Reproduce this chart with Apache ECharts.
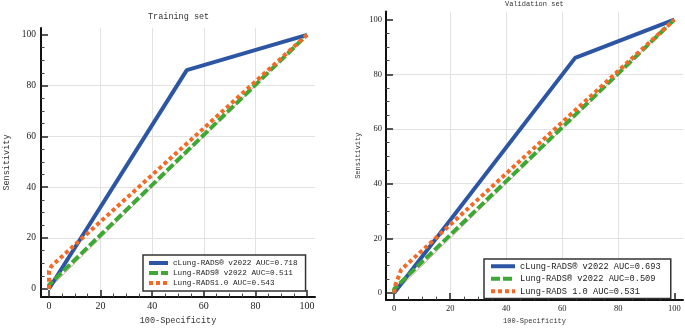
<!DOCTYPE html>
<html>
<head>
<meta charset="utf-8">
<script src="https://cdn.jsdelivr.net/npm/echarts@6/dist/echarts.min.js"></script>
<style>
  html, body { margin: 0; padding: 0; background: #fff; }
  #chart { width: 685px; height: 330px; }
</style>
</head>
<body>
<div id="chart"></div>
<script>
// ROC points: [100-Specificity, Sensitivity]
const trainNames = ['cLung-RADS® v2022 AUC=0.718', 'Lung-RADS® v2022 AUC=0.511', 'Lung-RADS1.0 AUC=0.543'];
const trainCLung = [[0, 0], [53.4, 86.1], [100, 100]];
const trainLung22 = [[0, 0], [0, 1.5], [100, 100]];
const trainLung10 = [[0, 0], [0, 7], [1, 9], [100, 100]];

const validNames = ['cLung-RADS® v2022 AUC=0.693', 'Lung-RADS® v2022 AUC=0.509', 'Lung-RADS 1.0 AUC=0.531'];
const validCLung = [[0, 0], [64.6, 86], [100, 100]];
const validLung22 = [[0, 0], [0, 1.5], [100, 100]];
const validLung10 = [[0, 0], [0.5, 3], [2.5, 8.5], [100, 100]];

const diagonal = [[0, 0], [100, 100]];
const tickValues = [0, 20, 40, 60, 80, 100];

const mono = 'Liberation Mono';
const serif = 'Liberation Serif';
const colors = ['#2c56a3', '#3ca935', '#f46a25'];
const dashes = ['solid', [9, 3], [4, 3]];

// ticks/labels pinned to 0..100, axis line sits a little outside 0
const makeAxis = (gridIndex, min, max, name, nameGap, fontSize, nameSize, labelMargin) => ({
  type: 'value',
  gridIndex,
  min,
  max,
  splitNumber: 5,
  name,
  nameLocation: 'middle',
  nameGap,
  nameTextStyle: { fontFamily: mono, fontSize: nameSize, color: '#333' },
  axisLine: { show: true, onZero: false, lineStyle: { color: '#111', width: 2 } },
  axisTick: { show: true, inside: true, length: 7, customValues: tickValues, lineStyle: { color: '#222', width: 1.5 } },
  minorTick: { show: true, splitNumber: 4, length: 3.5, lineStyle: { color: '#444', width: 1 } },
  axisLabel: {
    customValues: tickValues,
    margin: labelMargin,
    fontFamily: serif,
    fontSize,
    color: '#222',
  },
  splitLine: { show: true, showMinLine: false, showMaxLine: false, lineStyle: { color: '#e2e2e2', width: 1 } },
});

const makeSeries = (names, sets, axisIndex) => {
  const out = [
    {
      name: 'reference',
      type: 'line',
      xAxisIndex: axisIndex,
      yAxisIndex: axisIndex,
      data: diagonal,
      symbol: 'none',
      silent: true,
      lineStyle: { color: '#e7a7ab', width: 1 },
      z: 1,
    },
  ];
  sets.forEach((data, i) => {
    out.push({
      name: names[i],
      type: 'line',
      xAxisIndex: axisIndex,
      yAxisIndex: axisIndex,
      data,
      symbol: 'none',
      color: colors[i],
      lineStyle: { color: colors[i], width: 4, type: dashes[i], cap: 'butt' },
      z: 2 + i,
    });
  });
  return out;
};

const legendBase = {
  orient: 'vertical',
  itemHeight: 6,
  itemGap: 0,
  backgroundColor: '#fff',
  borderColor: '#333',
  borderWidth: 1.5,
  itemStyle: { opacity: 0 },
  lineStyle: { width: 4 },
};

const option = {
  animation: false,
  backgroundColor: '#fff',
  title: [
    {
      text: 'Training set',
      left: 148,
      top: 12,
      padding: 0,
      textStyle: { fontFamily: mono, fontSize: 8.5, fontWeight: 'normal', color: '#333' },
    },
    {
      text: 'Validation set',
      left: 505,
      top: 1,
      padding: 0,
      textStyle: { fontFamily: mono, fontSize: 7, fontWeight: 'normal', color: '#333' },
    },
  ],
  grid: [
    { left: 41, top: 28, width: 274, height: 272.5 },
    { left: 386, top: 11.4, width: 297, height: 294.6 },
  ],
  xAxis: [
    makeAxis(0, -3.1, 103.1, '100-Specificity', 18, 10, 8.5, 4),
    makeAxis(1, -2.9, 103.1, '100-Specificity', 15, 8.5, 7, 4),
  ],
  yAxis: [
    makeAxis(0, -3.3, 102.7, 'Sensitivity', 30, 9.5, 8.5, 5),
    makeAxis(1, -2.6, 103, 'Sensitivity', 24, 8.5, 7, 4),
  ],
  legend: [
    {
      ...legendBase,
      data: trainNames,
      left: 143,
      top: 255,
      padding: [3, 8, 3, 4],
      itemWidth: 19,
      textStyle: { fontFamily: mono, fontSize: 7.7, lineHeight: 10, color: '#222' },
    },
    {
      ...legendBase,
      data: validNames,
      left: 484,
      top: 259,
      padding: [1, 10, 1, 5],
      itemWidth: 24,
      textStyle: { fontFamily: mono, fontSize: 8.7, lineHeight: 12.5, color: '#222' },
    },
  ],
  series: [
    ...makeSeries(trainNames, [trainCLung, trainLung22, trainLung10], 0),
    ...makeSeries(validNames, [validCLung, validLung22, validLung10], 1),
  ],
};

const chart = echarts.init(document.getElementById('chart'), null, { renderer: 'canvas' });
chart.setOption(option);
</script>
</body>
</html>
